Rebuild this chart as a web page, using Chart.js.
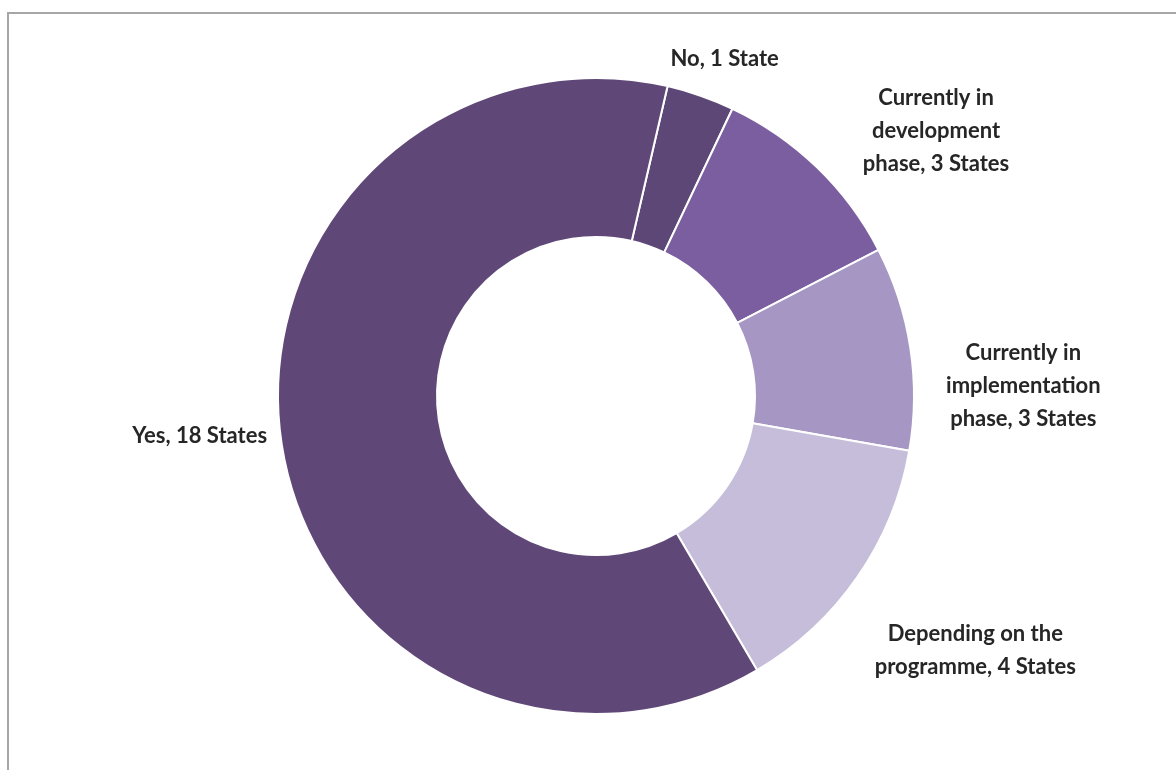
<!DOCTYPE html>
<html>
<head>
<meta charset="utf-8">
<script src="https://cdn.jsdelivr.net/npm/chart.js@4/dist/chart.umd.min.js"></script>
<style>
	html, body { margin:0; padding:0; background:#fff; }
	#wrap { position:relative; width:1176px; height:770px; }
	#frame { position:absolute; left:7px; top:12px; right:-5px; bottom:-5px; border:2px solid #a6a6a6; }
	#myChart { position:absolute; left:0; top:0; }
</style>
</head>
<body>
<div id="wrap">
	<div id="frame"></div>
	<canvas id="myChart" width="1176" height="770"></canvas>
</div>
<script>
// data
var categories = ['No', 'Currently in development phase', 'Currently in implementation phase', 'Depending on the programme', 'Yes'];
var states = [1, 3, 3, 4, 18];
var labelLines = [
	['No, 1 State'],
	['Currently in', 'development', 'phase, 3 States'],
	['Currently in', 'implementation', 'phase, 3 States'],
	['Depending on the', 'programme, 4 States'],
	['Yes, 18 States']
];
var colors = ['#5d4777', '#7b5e9f', '#a696c4', '#c6bdda', '#5f4878'];

// labels outside the ring, nudged like the original
var outsideLabels = {
	id: 'outsideLabels',
	afterDatasetsDraw: function(chart, args, opts){
		var ctx = chart.ctx;
		var meta = chart.getDatasetMeta(0);
		ctx.save();
		ctx.font = 'bold 22px Lato';
		ctx.fillStyle = '#262626';
		ctx.textAlign = 'center';
		ctx.textBaseline = 'middle';
		for(var i = 0; i < meta.data.length; i++){
			var arc = meta.data[i];
			var mid = (arc.startAngle + arc.endAngle) / 2;
			var x = arc.x + Math.cos(mid) * arc.outerRadius + opts.nudge[i][0];
			var y = arc.y + Math.sin(mid) * arc.outerRadius + opts.nudge[i][1];
			var lines = labelLines[i];
			var y0 = y - (lines.length - 1) * opts.lineHeight / 2;
			for(var j = 0; j < lines.length; j++){
				ctx.fillText(lines[j], x, y0 + j * opts.lineHeight);
			}
		}
		ctx.restore();
	}
};

var ctx = document.getElementById('myChart');
var myChart = new Chart(ctx, {
	type: 'doughnut',
	data: {
		labels: categories,
		datasets: [{
			data: states,
			backgroundColor: colors,
			borderColor: '#ffffff',
			borderWidth: 2
		}]
	},
	options: {
		responsive: false,
		animation: false,
		rotation: 13,
		cutout: '50%',
		layout: { padding: { left: 277, right: 261, top: 77, bottom: 55 } },
		plugins: {
			legend: { display: false },
			tooltip: { enabled: false },
			outsideLabels: {
				lineHeight: 33,
				nudge: [[24, -37], [119, -36], [113, 38], [118, 73], [-82, -8]]
			}
		}
	},
	plugins: [outsideLabels]
});
</script>
</body>
</html>
